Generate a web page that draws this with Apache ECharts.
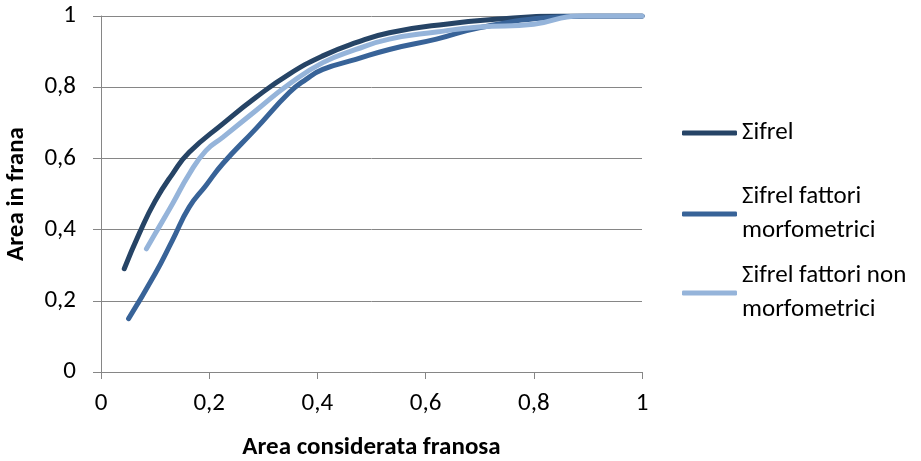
<!DOCTYPE html>
<html>
<head>
<meta charset="utf-8">
<script src="https://cdn.jsdelivr.net/npm/echarts@6/dist/echarts.min.js"></script>
<style>html,body{margin:0;padding:0;background:#fff}#c{width:921px;height:461px}</style>
</head>
<body>
<div id="c"></div>
<script>
// ---- data ----
const seriesNames = ['Σifrel', 'Σifrel fattori morfometrici', 'Σifrel fattori non morfometrici'];
const legendLabels = ['Σifrel', 'Σifrel fattori\nmorfometrici', 'Σifrel fattori non\nmorfometrici'];
const xTicks = [0, 0.2, 0.4, 0.6, 0.8, 1];
const yTicks = [0, 0.2, 0.4, 0.6, 0.8, 1];

const s1x = [0.043, 0.071, 0.10, 0.132, 0.163, 0.225, 0.286, 0.348, 0.41, 0.471, 0.533, 0.637, 0.75, 0.85, 1.0];
const s1y = [0.29, 0.39, 0.48, 0.556, 0.617, 0.697, 0.771, 0.837, 0.888, 0.925, 0.953, 0.977, 0.993, 1.0, 1.0];

const s2x = [0.051, 0.10, 0.132, 0.163, 0.194, 0.225, 0.286, 0.348, 0.379, 0.41, 0.471, 0.533, 0.62, 0.699, 0.822, 0.9, 1.0];
const s2y = [0.15, 0.276, 0.37, 0.463, 0.524, 0.585, 0.683, 0.785, 0.822, 0.85, 0.878, 0.906, 0.935, 0.967, 0.995, 1.0, 1.0];

const s3x = [0.084, 0.10, 0.132, 0.163, 0.194, 0.225, 0.286, 0.348, 0.41, 0.471, 0.533, 0.62, 0.699, 0.80, 0.884, 1.0];
const s3y = [0.346, 0.388, 0.472, 0.556, 0.622, 0.659, 0.734, 0.809, 0.869, 0.906, 0.935, 0.955, 0.969, 0.977, 1.0, 1.0];

const colors = ['#264466', '#386398', '#95B4DA'];

// ---- chart ----
const FONT = 'Carlito, Lato, sans-serif';
const FS = 25;
const zip = (xs, ys) => xs.map((x, i) => [x, ys[i]]);
const fmt = v => String(v).replace('.', ',');
const chart = echarts.init(document.getElementById('c'), null, {renderer: 'canvas'});

const mkLegend = (i, top, twoLine) => ({
  data: [seriesNames[i]],
  left: 682, top: top, orient: 'vertical',
  itemWidth: 55, itemHeight: 5, icon: 'roundRect',
  padding: 0,
  formatter: () => legendLabels[i],
  selectedMode: false,
  textStyle: {fontFamily: FONT, fontSize: FS, color: '#000', lineHeight: 34,
    padding: twoLine ? [34, 0, 0, 0] : 0}
});

const series = [zip(s1x, s1y), zip(s2x, s2y), zip(s3x, s3y)].map((d, i) => ({
  name: seriesNames[i], type: 'line', data: d, smooth: 0.5,
  showSymbol: false, symbol: 'none',
  lineStyle: {color: colors[i], width: 5, cap: 'round', join: 'round'},
  itemStyle: {color: colors[i]}, z: 2 + i
}));

chart.setOption({
  animation: false,
  backgroundColor: '#fff',
  color: colors,
  grid: {left: 101, right: 279, top: 16, bottom: 89, containLabel: false, outerBoundsMode: 'none'},
  legend: [mkLegend(0, 116, false), mkLegend(1, 163, true), mkLegend(2, 242, true)],
  xAxis: {
    type: 'value', min: xTicks[0], max: xTicks[xTicks.length - 1], interval: 0.2,
    name: 'Area considerata franosa', nameLocation: 'middle', nameGap: 63,
    nameTextStyle: {fontFamily: FONT, fontSize: FS, fontWeight: 'bold', color: '#000'},
    axisLine: {lineStyle: {color: '#868686', width: 1}},
    axisTick: {show: true, length: 7, lineStyle: {color: '#868686'}},
    axisLabel: {fontFamily: FONT, fontSize: FS, color: '#000', margin: 19, formatter: fmt},
    splitLine: {show: false}
  },
  yAxis: {
    type: 'value', min: yTicks[0], max: yTicks[yTicks.length - 1], interval: 0.2,
    name: 'Area in frana', nameLocation: 'middle', nameGap: 72,
    nameTextStyle: {fontFamily: FONT, fontSize: FS, fontWeight: 'bold', color: '#000'},
    axisLine: {show: true, lineStyle: {color: '#868686', width: 1}},
    axisTick: {show: true, length: 8, lineStyle: {color: '#868686'}},
    axisLabel: {fontFamily: FONT, fontSize: FS, color: '#000', margin: 25, formatter: fmt},
    splitLine: {show: true, lineStyle: {color: '#868686', width: 1}}
  },
  series: series
});
</script>
</body>
</html>
